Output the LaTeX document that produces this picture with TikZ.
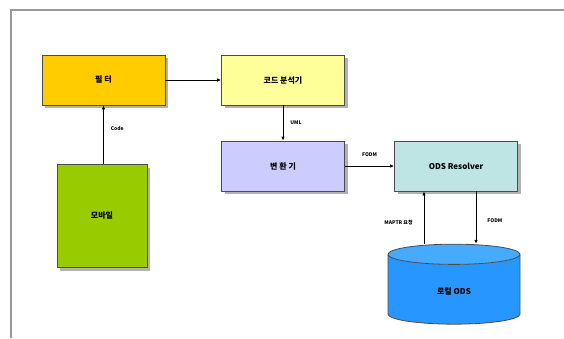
\documentclass[tikz,border=0pt]{standalone}
\usepackage{fontspec}
\setmainfont{Noto Sans CJK KR}
\usetikzlibrary{arrows.meta,shapes.geometric,shadows}

\begin{document}
\begin{tikzpicture}[x=1pt, y=-1pt,
    module/.style ={rectangle, draw=black!70, thick, minimum width=123pt,
      minimum height=50pt, font=\fontsize{8}{9}\selectfont\bfseries,
      drop shadow={shadow xshift=3pt, shadow yshift=-3pt, fill=black!30, opacity=1}},
    flow/.style ={thick, -{Latex[length=4pt,width=3.5pt]}},
    tag/.style ={font=\fontsize{5}{6}\selectfont\bfseries, inner sep=1pt}]
   \useasboundingbox (0,0) rectangle (564,338);
   \draw[black!40, line width=2pt] (564,10) -- (11,10) -- (11,338);
   \node[module, fill={rgb,255:red,255;green,204;blue,0}] (filter) at (103.5,80)  {필 터};
   \node[module, fill={rgb,255:red,255;green,255;blue,153}] (analyzer) at (283,80)  {코드 분석기};
   \node[module, fill={rgb,255:red,204;green,204;blue,255}] (converter) at (283,166)  {변 환 기};
   \node[module, fill={rgb,255:red,190;green,228;blue,228}] (resolver) at (456,166)  {ODS Resolver};
   \node[module, fill={rgb,255:red,153;green,204;blue,0}, minimum width=90pt,
     minimum height=103pt] (mobile) at (102,216)  {모바일};
   \node[cylinder, shape border rotate=90, aspect=0.5, draw=black!70, thick,
     minimum width=132pt, minimum height=80pt, cylinder uses custom fill,
     cylinder body fill={rgb,255:red,40;green,150;blue,255},
     cylinder end fill={rgb,255:red,70;green,170;blue,255},
     font=\fontsize{8}{9}\selectfont\bfseries] (store) at (454,291)  {로컬 ODS};
   \draw[flow] (filter) to  (analyzer);
   \draw[flow] (mobile.north -| filter) to node[tag, right=6pt, pos=0.6] {Code} (filter);
   \draw[flow] (analyzer) to node[tag, right=6pt] {UML} (converter);
   \draw[flow] (converter) to node[tag, above=8pt] {FODM} (resolver);
   \draw[flow] (store.north -| 424,0) to node[tag, left=10pt, pos=0.4] {MAPTR 요청} (resolver.south -| 424,0);
   \draw[flow] (resolver.south -| 476,0) to node[tag, right=10pt, pos=0.55] {FODM} (store.north -| 476,0);
 \end{tikzpicture}
\end{document}
